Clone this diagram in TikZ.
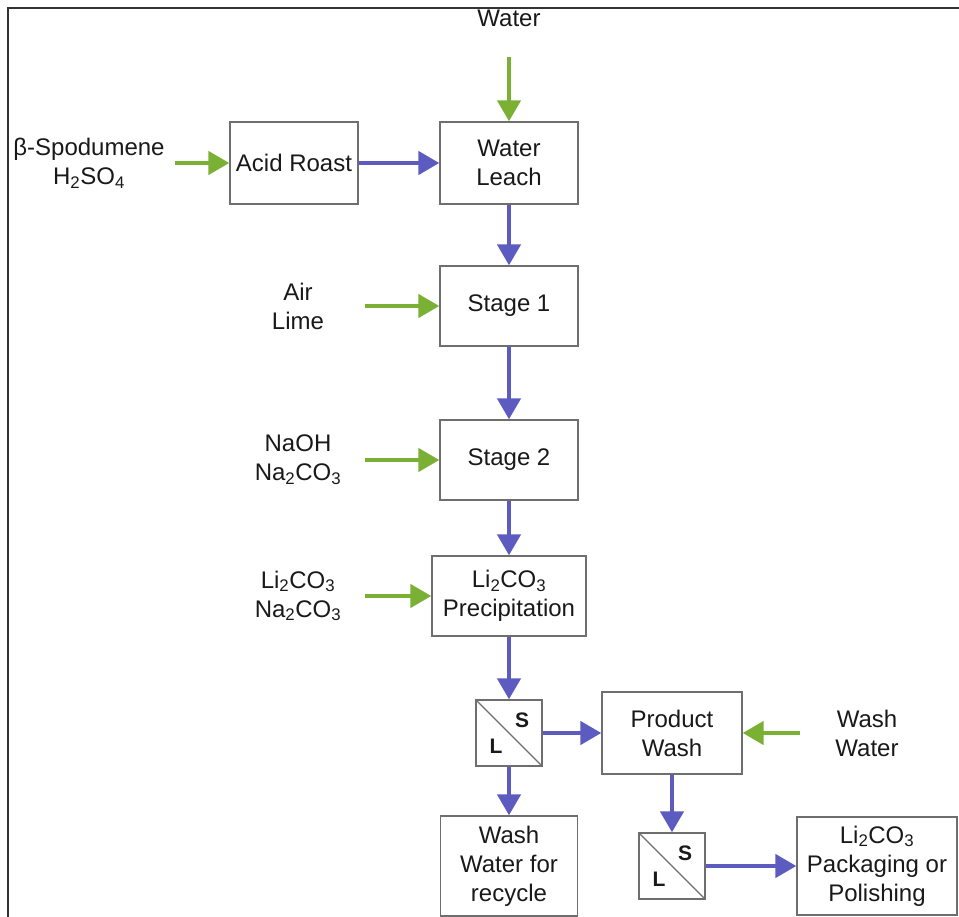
\documentclass[tikz,border=0pt]{standalone}
\usepackage{fontspec}
\setmainfont{Liberation Sans}
\usetikzlibrary{arrows.meta}
\definecolor{flowgreen}{RGB}{122,176,52}
\definecolor{flowblue}{RGB}{92,92,192}
\definecolor{boxline}{RGB}{110,110,110}
\tikzset{
  procbox/.style={draw=boxline, line width=1.3pt, align=center, inner sep=0pt,
    font=\fontsize{24}{29}\selectfont, text=black!90},
  lbl/.style={align=center, inner sep=0pt, font=\fontsize{24}{29}\selectfont, text=black!90},
  sepbox/.style={draw=boxline, line width=1.3pt, minimum width=66pt, minimum height=66pt, inner sep=0pt},
  seplbl/.style={inner sep=0pt, font=\fontsize{21}{24}\selectfont\bfseries, text=black!90},
  garrow/.style={draw=flowgreen, line width=4.5pt, -{Triangle[length=21pt,width=23pt]}},
  barrow/.style={draw=flowblue, line width=4.5pt, -{Triangle[length=21pt,width=23pt]}},
}
\begin{document}
\begin{tikzpicture}[x=1pt,y=-1pt]
\useasboundingbox (0,0) rectangle (959,917);
% frame
\draw[black!80, line width=1.5pt] (8,917) -- (8,8) -- (959,8);

% process boxes
\node[procbox, minimum width=128pt, minimum height=82pt] (roast) at (294,163) {Acid Roast};
\node[procbox, minimum width=138pt, minimum height=82pt] (leach) at (509,163) {Water\\Leach};
\node[procbox, minimum width=138pt, minimum height=80pt] (st1) at (509,306) {Stage 1};
\node[procbox, minimum width=138pt, minimum height=80pt] (st2) at (509,460) {Stage 2};
\node[procbox, minimum width=154pt, minimum height=80pt] (prec) at (509,596) {Li\textsubscript{2}CO\textsubscript{3}\\Precipitation};
\node[procbox, minimum width=140pt, minimum height=82pt] (pwash) at (672,733) {Product\\Wash};
\node[procbox, minimum width=137pt, minimum height=100pt] (recyc) at (509,866) {Wash\\Water for\\recycle};
\node[procbox, minimum width=160pt, minimum height=98pt] (pack) at (877,866) {Li\textsubscript{2}CO\textsubscript{3}\\Packaging or\\Polishing};

% separators
\node[sepbox] (sep1) at (509,733) {};
\draw[boxline, line width=1.3pt] (sep1.north west) -- (sep1.south east);
\node[seplbl] (sep1s) at ([xshift=13pt,yshift=13pt]sep1.center) {S};
\node[seplbl] (sep1l) at ([xshift=-13pt,yshift=-13pt]sep1.center) {L};
\node[sepbox] (sep2) at (672,866) {};
\draw[boxline, line width=1.3pt] (sep2.north west) -- (sep2.south east);
\node[seplbl] (sep2s) at ([xshift=13pt,yshift=13pt]sep2.center) {S};
\node[seplbl] (sep2l) at ([xshift=-13pt,yshift=-13pt]sep2.center) {L};

% input labels
\node[lbl] (water) at (509,18) {Water};
\node[lbl] (spod) at (89,163) {β-Spodumene\\H\textsubscript{2}SO\textsubscript{4}};
\node[lbl] (air) at (298,306) {Air\\Lime};
\node[lbl] (naoh) at (298,460) {NaOH\\Na\textsubscript{2}CO\textsubscript{3}};
\node[lbl] (lico) at (298,596) {Li\textsubscript{2}CO\textsubscript{3}\\Na\textsubscript{2}CO\textsubscript{3}};
\node[lbl] (wwater) at (867,733) {Wash\\Water};

% coordinates for free ends of green arrows
\coordinate (gw) at (509,57);
\coordinate (gs) at (175,163);
\coordinate (ga) at (365,306);
\coordinate (gn) at (365,460);
\coordinate (gl) at (365,596);
\coordinate (gww) at (800,733);

% green arrows
\draw[garrow] (gw) -- (leach.north);
\draw[garrow] (gs) -- (roast.west);
\draw[garrow] (ga) -- (st1.west);
\draw[garrow] (gn) -- (st2.west);
\draw[garrow] (gl) -- (prec.west);
\draw[garrow] (gww) -- (pwash.east);

% blue arrows
\draw[barrow] (roast.east) -- (leach.west);
\draw[barrow] (leach.south) -- (st1.north);
\draw[barrow] (st1.south) -- (st2.north);
\draw[barrow] (st2.south) -- (prec.north);
\draw[barrow] (prec.south) -- (sep1.north);
\draw[barrow] (sep1.east) -- (pwash.west);
\draw[barrow] (sep1.south) -- (recyc.north);
\draw[barrow] (pwash.south) -- (sep2.north);
\draw[barrow] (sep2.east) -- (pack.west);
\end{tikzpicture}
\end{document}
